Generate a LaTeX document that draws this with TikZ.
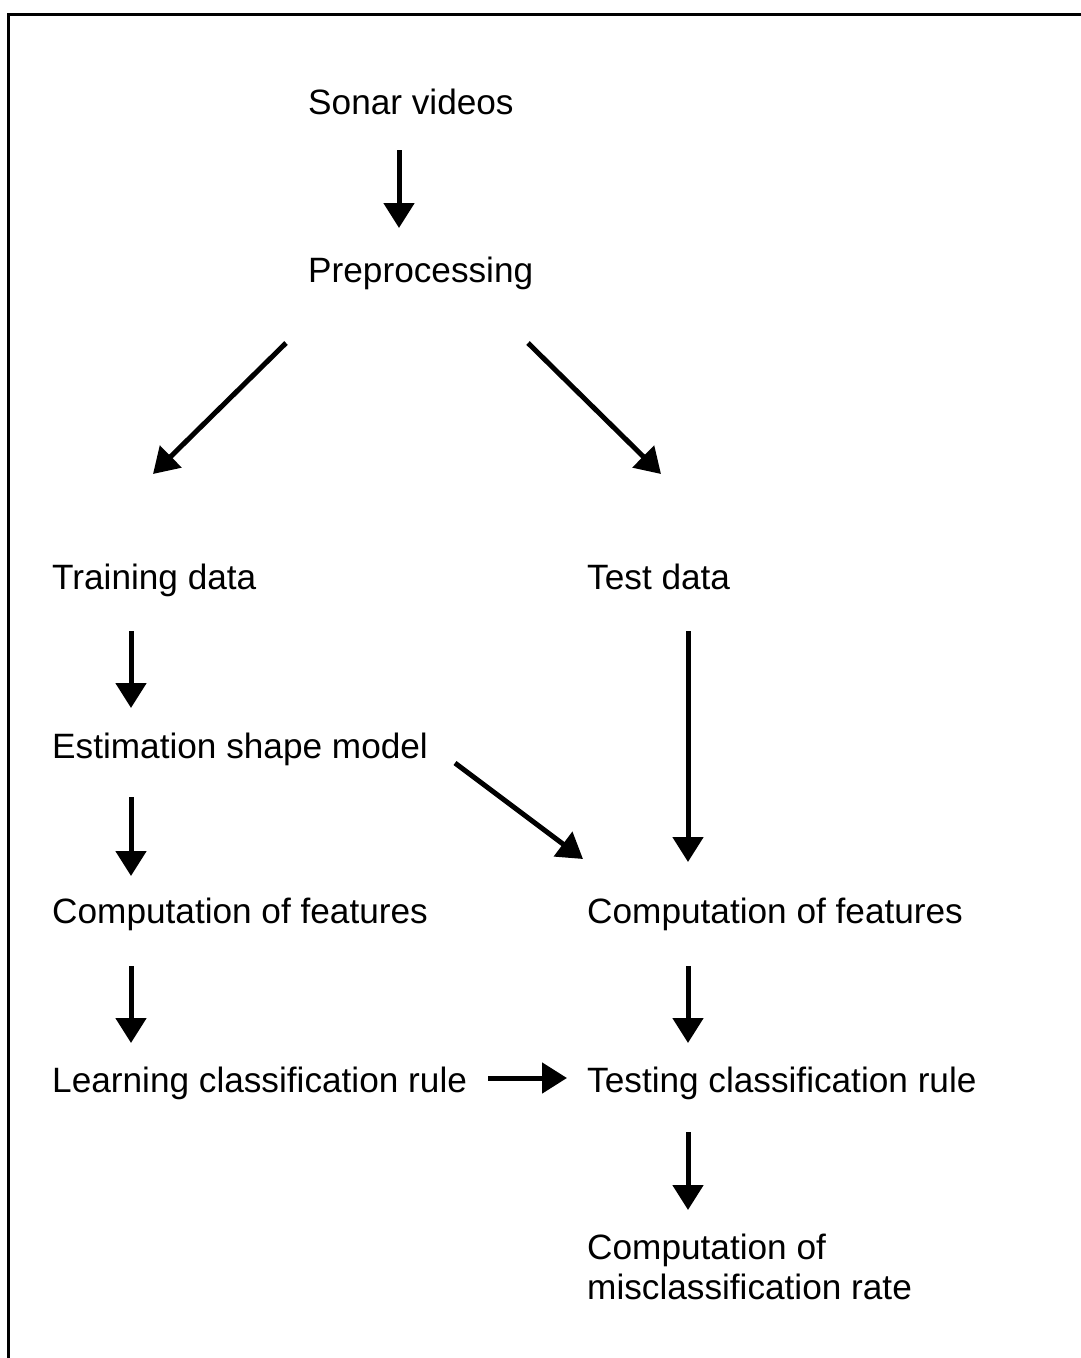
\documentclass[tikz,border=0pt]{standalone}
\usepackage{fontspec}
\setmainfont{Liberation Sans}
\usetikzlibrary{calc,arrows.meta}

\begin{document}
\begin{tikzpicture}[x=1pt, y=-1pt,
  stage/.style={anchor=base west, inner sep=0pt, align=left,
               font=\fontsize{35.2}{40}\selectfont},
  flow/.style={line width=5pt, -{Triangle[length=25pt, width=30pt]}},
]
\useasboundingbox (0,0) rectangle (1081,1358);

% Frame (cut off at the right and at the bottom).
\draw[line width=3pt] (8,1360) -- (8,14) -- (1083,14);

% Stages, placed by their baselines.
\node[stage] (sonar) at (308,114) {Sonar videos};
\node[stage] (prep) at (308,282) {Preprocessing};
\node[stage] (train) at (52,589) {Training data};
\node[stage] (test) at (587,589) {Test data};
\node[stage] (estim) at (52,758) {Estimation shape model};
\node[stage] (featL) at (52,923) {Computation of features};
\node[stage] (featR) at (587,923) {Computation of features};
\node[stage] (learn) at (52,1092) {Learning classification rule};
\node[stage] (testrule) at (587,1092) {Testing classification rule};
% base of a two-line node is its last line
\node[stage] (misrate) at (587,1299) {Computation of\\misclassification rate};

% Preprocessing, then the split into training and test data.
\draw[flow] ($(sonar.base west)+(91,36)$) -- ($(prep.base west)+(91,-54)$);
\draw[flow] ($(prep.base west)+(-22,61)$) -- ($(train.base west)+(101,-115)$);
\draw[flow] ($(prep.base west)+(220,61)$) -- ($(test.base west)+(74,-115)$);

% Training branch.
\draw[flow] ($(train.base west)+(79,42)$) -- ($(estim.base west)+(79,-50)$);
\draw[flow] ($(estim.base west)+(79,39)$) -- ($(featL.base west)+(79,-47)$);
\draw[flow] ($(featL.base west)+(79,43)$) -- ($(learn.base west)+(79,-49)$);

% Test branch.
\draw[flow] ($(test.base west)+(101,42)$) -- ($(featR.base west)+(101,-61)$);
\draw[flow] ($(estim.base west)+(403,5)$) -- ($(featR.base west)+(-4,-64)$);
\draw[flow] ($(featR.base west)+(101,43)$) -- ($(testrule.base west)+(101,-49)$);
\draw[flow] ($(learn.base west)+(436,-14)$) -- ($(testrule.base west)+(-20,-14)$);
\draw[flow] ($(testrule.base west)+(101,40)$) -- ($(misrate.base west)+(101,-89)$);

\end{tikzpicture}
\end{document}
